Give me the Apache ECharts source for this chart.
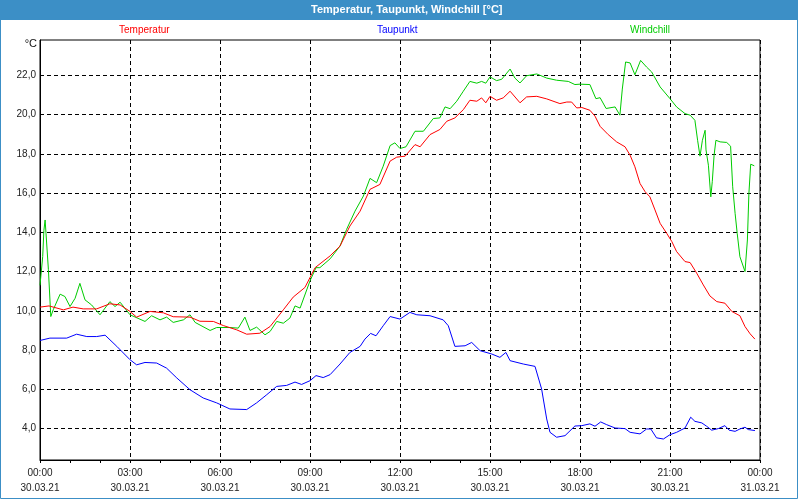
<!DOCTYPE html>
<html>
<head>
<meta charset="utf-8">
<script src="https://cdn.jsdelivr.net/npm/echarts@6/dist/echarts.min.js"></script>
<style>html,body{margin:0;padding:0;background:#fff}#c{width:800px;height:500px}</style>
</head>
<body>
<div id="c"></div>
<script>
// ---- data (hour of day, °C) ----
const temperatur = [[0,10.19],[0.3,10.25],[0.78,10.05],[1.1,10.19],[1.44,10.1],[1.89,10.1],[2.33,10.36],[2.67,10.3],[3.0,9.97],[3.22,9.68],[3.67,9.97],[4.11,9.9],[4.44,9.7],[5.0,9.68],[5.33,9.47],[5.78,9.46],[6.11,9.25],[6.56,9.03],[6.89,8.81],[7.33,8.86],[7.67,9.2],[8.11,10.05],[8.44,10.7],[8.83,11.19],[9.17,12.2],[9.67,12.8],[10,13.3],[10.33,14.32],[10.67,15.08],[11,16.19],[11.33,16.44],[11.67,17.63],[11.89,17.83],[12.17,17.88],[12.5,18.47],[12.67,18.36],[13,18.98],[13.33,19.24],[13.56,19.66],[13.83,19.83],[14.11,20.25],[14.33,20.73],[14.56,20.68],[14.72,20.85],[14.86,20.6],[15,20.93],[15.22,20.73],[15.44,20.85],[15.67,21.19],[16,20.6],[16.22,20.9],[16.56,20.93],[16.89,20.8],[17.33,20.56],[17.56,20.64],[17.72,20.64],[17.89,20.34],[18.06,20.36],[18.33,20.22],[18.5,19.92],[18.67,19.4],[18.94,18.98],[19.22,18.61],[19.5,18.36],[19.67,17.93],[19.83,17.34],[20,16.49],[20.17,16.07],[20.33,15.81],[20.5,15.14],[20.67,14.46],[20.89,13.95],[21.06,13.53],[21.22,13.02],[21.5,12.51],[21.67,12.46],[21.89,11.92],[22.11,11.32],[22.33,10.76],[22.56,10.47],[22.83,10.39],[23.06,9.97],[23.33,9.75],[23.5,9.2],[23.67,8.83],[23.83,8.56]];
const taupunkt = [[0,8.49],[0.33,8.61],[0.89,8.61],[1.22,8.81],[1.56,8.69],[1.89,8.69],[2.17,8.76],[2.56,8.19],[3.0,7.51],[3.22,7.25],[3.5,7.37],[3.89,7.34],[4.22,7.08],[4.56,6.58],[5.0,5.98],[5.44,5.56],[5.89,5.31],[6.33,5.0],[6.89,4.97],[7.22,5.31],[7.56,5.73],[7.89,6.15],[8.22,6.2],[8.5,6.37],[8.72,6.25],[9.0,6.44],[9.2,6.7],[9.44,6.6],[9.67,6.75],[10,7.29],[10.33,7.88],[10.67,8.19],[10.83,8.56],[11.02,8.85],[11.2,8.73],[11.44,9.24],[11.67,9.71],[12,9.58],[12.33,9.92],[12.56,9.8],[13,9.75],[13.44,9.54],[13.61,9.24],[13.83,8.19],[14.17,8.22],[14.39,8.39],[14.67,7.97],[15.06,7.8],[15.33,7.63],[15.53,7.88],[15.67,7.46],[16.11,7.29],[16.5,7.17],[16.72,6.02],[16.89,4.49],[17,3.81],[17.22,3.56],[17.5,3.64],[17.83,4.13],[18.06,4.15],[18.33,4.24],[18.5,4.12],[18.69,4.34],[18.89,4.2],[19.17,4.03],[19.5,4.0],[19.67,3.81],[20,3.73],[20.22,3.98],[20.36,3.98],[20.55,3.53],[20.78,3.47],[21,3.69],[21.22,3.81],[21.5,4.03],[21.69,4.58],[21.83,4.37],[22.06,4.29],[22.22,4.12],[22.39,3.92],[22.61,4.0],[22.83,4.15],[22.97,3.92],[23.17,3.86],[23.33,3.98],[23.5,4.07],[23.61,3.95],[23.83,3.9]];
const windchill = [[0,11.3],[0.09,12.76],[0.13,14.1],[0.17,14.63],[0.2,13.95],[0.28,12.1],[0.36,9.71],[0.44,10.05],[0.67,10.85],[0.83,10.73],[1.0,10.22],[1.17,10.64],[1.33,11.4],[1.5,10.56],[1.72,10.3],[2.0,9.8],[2.33,10.47],[2.5,10.22],[2.67,10.44],[3.0,9.8],[3.5,9.46],[3.72,9.75],[4.0,9.54],[4.22,9.68],[4.44,9.41],[4.78,9.54],[5.0,9.8],[5.17,9.41],[5.67,9.0],[5.89,9.15],[6.33,9.15],[6.61,9.12],[6.83,9.68],[7.0,9.0],[7.22,9.17],[7.5,8.78],[7.67,8.95],[7.89,9.46],[8.11,9.37],[8.33,9.63],[8.5,10.25],[8.67,10.14],[9.0,11.53],[9.2,12.2],[9.33,12.2],[9.67,12.65],[10,13.3],[10.22,14.15],[10.5,15.08],[10.78,15.85],[11,16.75],[11.22,16.53],[11.44,17.37],[11.67,18.42],[11.83,18.56],[12,18.27],[12.2,18.36],[12.5,19.15],[12.78,19.15],[13.11,19.8],[13.33,19.83],[13.5,20.39],[13.67,20.3],[13.89,20.68],[14.11,21.19],[14.33,21.69],[14.56,21.6],[14.72,21.69],[14.86,21.6],[15,21.92],[15.22,21.73],[15.39,21.8],[15.67,22.32],[15.83,21.86],[16,21.61],[16.22,21.98],[16.56,22.07],[16.89,21.86],[17.22,21.75],[17.61,21.69],[17.83,21.53],[18.0,21.55],[18.33,21.53],[18.53,20.81],[18.67,20.86],[18.87,20.31],[19.17,20.39],[19.33,19.97],[19.41,21.3],[19.52,22.68],[19.67,22.63],[19.83,22.03],[20.02,22.76],[20.22,22.42],[20.39,22.17],[20.67,21.41],[21.0,20.81],[21.22,20.39],[21.5,20.05],[21.67,19.97],[21.83,19.71],[21.92,18.69],[22.0,17.88],[22.08,18.69],[22.17,19.2],[22.2,18.2],[22.28,17.42],[22.36,15.81],[22.41,16.6],[22.47,17.93],[22.53,18.69],[22.67,18.61],[22.89,18.58],[23.02,18.39],[23.09,16.32],[23.17,14.97],[23.24,13.95],[23.33,12.76],[23.5,12.0],[23.58,13.61],[23.63,15.98],[23.69,17.47],[23.81,17.39]];
const yTicks = [4, 6, 8, 10, 12, 14, 16, 18, 20, 22];
const xLabelHours = [0, 3, 6, 9, 12, 15, 18, 21, 24];
const dayLabels = ['30.03.21', '31.03.21'];
const seriesNames = ['Temperatur', 'Taupunkt', 'Windchill'];
const seriesColors = ['#ff0000', '#0000ff', '#00cc00'];
const chartTitle = 'Temperatur, Taupunkt, Windchill [°C]';

const chart = echarts.init(document.getElementById('c'), null, {renderer: 'canvas'});
const dash = [4, 3];
const pad = n => (n < 10 ? '0' : '') + n;

const legendFont = {fontFamily: 'Liberation Sans, Arial', fontSize: 10};
const legendLefts = [114, 372, 625];
const legends = seriesNames.map((n, i) => ({
  data: [{name: n, icon: 'none', textStyle: {color: seriesColors[i]}}],
  left: legendLefts[i], top: 25, itemWidth: 0, itemHeight: 0, itemGap: 0,
  selectedMode: false, padding: 0,
  textStyle: Object.assign({padding: 0}, legendFont)
}));

chart.setOption({
  animation: false,
  backgroundColor: '#ffffff',
  title: {
    text: chartTitle, left: 311, top: 4, padding: 0,
    textStyle: {color: '#ffffff', fontSize: 11, fontWeight: 'bold', fontFamily: 'Liberation Sans, Arial'}
  },
  legend: legends,
  graphic: [
    {type: 'rect', z: -10, shape: {x: 0, y: 0, width: 798, height: 20}, style: {fill: '#3c8fc6'}},
    {type: 'rect', z: -10, shape: {x: 0.5, y: 0.5, width: 797, height: 498}, style: {fill: 'none', stroke: '#3c8fc6', lineWidth: 1}},
    {type: 'text', x: 37, y: 44, style: {text: '°C', align: 'right', verticalAlign: 'middle', fill: '#111', fontSize: 11, fontFamily: 'Liberation Sans, Arial'}}
  ],
  grid: {left: 40, right: 40, top: 40, bottom: 40, show: true, borderColor: '#000', borderWidth: 1, backgroundColor: 'transparent'},
  xAxis: {
    type: 'value', min: 0, max: 24, interval: 3,
    axisLine: {lineStyle: {color: '#000', width: 1}},
    axisTick: {show: true, length: 3, lineStyle: {color: '#000'}},
    minorTick: {show: true, splitNumber: 3, length: 3, lineStyle: {color: '#000'}},
    splitLine: {show: true, lineStyle: {color: '#000', type: dash, width: 1}},
    axisLabel: {
      margin: 6, color: '#222', fontSize: 10, lineHeight: 14.5, fontFamily: 'Liberation Sans, Arial',
      showMinLabel: true, showMaxLabel: true,
      formatter: v => xLabelHours.indexOf(v) < 0 ? '' : pad(v % 24) + ':00\n' + dayLabels[v >= 24 ? 1 : 0]
    }
  },
  yAxis: {
    type: 'value', min: 2.4, max: 23.8,
    axisLine: {show: true, lineStyle: {color: '#000', width: 1}},
    axisTick: {show: false, customValues: yTicks},
    splitLine: {show: true, lineStyle: {color: '#000', type: dash, width: 1}},
    axisLabel: {
      customValues: yTicks, margin: 4, color: '#222', fontSize: 10, fontFamily: 'Liberation Sans, Arial',
      formatter: v => v.toFixed(1).replace('.', ',')
    }
  },
  series: seriesNames.map((n, i) => ({
    name: n, type: 'line', showSymbol: false, symbol: 'none',
    data: [temperatur, taupunkt, windchill][i],
    lineStyle: {color: seriesColors[i], width: 1},
    itemStyle: {color: seriesColors[i]},
    z: [3, 2, 1][i]
  }))
});
</script>
</body>
</html>
